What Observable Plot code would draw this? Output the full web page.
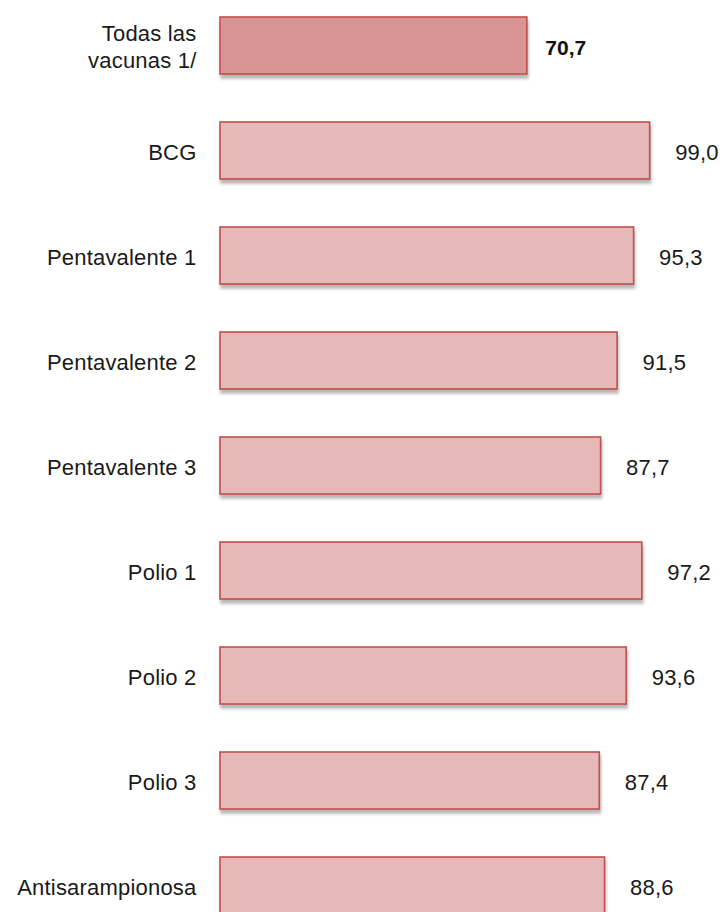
<!DOCTYPE html>
<html>
<head>
<meta charset="utf-8">
<script src="https://cdn.jsdelivr.net/npm/d3@7"></script>
<script src="https://cdn.jsdelivr.net/npm/@observablehq/plot@0.6"></script>
<style>
  html, body { margin: 0; padding: 0; background: #fff; }
  #chart { width: 720px; height: 912px; overflow: hidden; }
  .bars rect { filter: drop-shadow(1px 4px 1.5px rgba(0,0,0,0.28)); }
  .lbl text { letter-spacing: 0.2px; }
</style>
</head>
<body>
<div id="chart"></div>
<script>
const categories = ["Todas las\nvacunas 1/", "BCG", "Pentavalente 1", "Pentavalente 2", "Pentavalente 3", "Polio 1", "Polio 2", "Polio 3", "Antisarampionosa"];
const values = [70.7, 99.0, 95.3, 91.5, 87.7, 97.2, 93.6, 87.4, 88.6];
const highlight = [true, false, false, false, false, false, false, false, false];

const data = categories.map((c, i) => ({cat: c, value: values[i], total: highlight[i]}));
const fmt = v => v.toFixed(1).replace(".", ",");

const chart = Plot.plot({
  width: 720,
  height: 912,
  marginLeft: 0, marginRight: 0, marginTop: 0, marginBottom: 0,
  style: {fontFamily: "'Liberation Sans', Arial, sans-serif", background: "white"},
  x: {domain: [0, 100], range: [220, 654], axis: null},
  y: {domain: categories, range: [15, 915], paddingInner: 0.46, paddingOuter: 0, axis: null},
  marks: [
    Plot.barX(data, {
      x1: () => 0, x2: "value", y: "cat",
      fill: d => d.total ? "#D99594" : "#E6B9B8",
      stroke: "#C0504D", strokeWidth: 1.6,
      className: "bars"
    }),
    Plot.text(data, {
      x: () => 0, y: "cat", text: "cat",
      textAnchor: "end", dx: -24, fontSize: 22, lineHeight: 1.22,
      fill: "#1a1a1a", className: "lbl"
    }),
    Plot.text(data.filter(d => !d.total), {
      x: "value", y: "cat", text: d => fmt(d.value),
      textAnchor: "start", dx: 25, dy: 2, fontSize: 22,
      fill: "#1a1a1a", className: "lbl"
    }),
    Plot.text(data.filter(d => d.total), {
      x: "value", y: "cat", text: d => fmt(d.value),
      textAnchor: "start", dx: 18, dy: 2, fontSize: 21, fontWeight: "bold",
      fill: "#111"
    })
  ]
});
document.getElementById("chart").appendChild(chart);
</script>
</body>
</html>
